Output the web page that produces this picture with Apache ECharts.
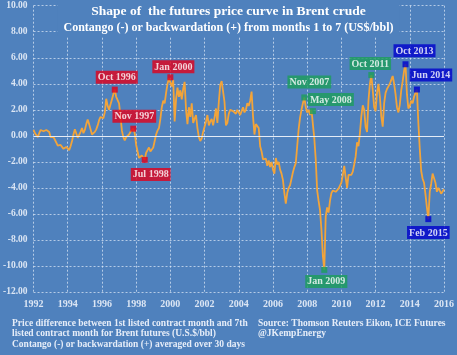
<!DOCTYPE html>
<html>
<head>
<meta charset="utf-8">
<script src="https://cdn.jsdelivr.net/npm/echarts@6/dist/echarts.min.js"></script>
<style>
html,body{margin:0;padding:0;background:#4f81bd;}
#c{width:457px;height:355px;}
</style>
</head>
<body>
<div id="c"></div>
<script>
// ---- data ----
const startYear = 1992;
const yearTicks = ['1992','1994','1996','1998','2000','2002','2004','2006','2008','2010','2012','2014','2016'];
const v1992 = [0.45, 0.2, 0.05, -0.1, 0.2, 0.45, 0.5, 0.35, 0.4, 0.45, 0.35, 0.3];
const v1993 = [-0.1, -0.25, -0.1, -0.3, -0.45, -0.75, -0.85, -0.7, -0.8, -1.0, -0.9, -0.85];
const v1994 = [-1.0, -1.1, -0.8, -0.4, 0.1, 0.5, 0.6, -0.15, -0.1, 0.3, 0.6, 0.2];
const v1995 = [0.45, 0.9, 1.25, 0.9, 0.5, 0.1, 0.05, 0.3, 0.5, 0.8, 1.2, 1.45];
const v1996 = [1.6, 1.35, 1.8, 2.85, 2.3, 2.0, 2.4, 2.8, 3.2, 3.55, 3.0, 3.15];
const v1997 = [2.5, 1.5, 0.4, -0.1, -0.35, -0.1, -0.2, 0.1, 0.3, 0.3, 0.55, 0.2];
const v1998 = [-0.7, -1.2, -1.7, -1.75, -1.5, -1.6, -1.85, -1.3, -1.1, -0.9, -1.2, -1.3];
const v1999 = [-0.9, -0.4, 0.1, 0.4, 0.6, 1.3, 2.2, 2.7, 2.5, 3.3, 4.0, 4.4];
const v2000 = [4.5, 3.8, 4.3, 1.1, 2.8, 3.7, 3.0, 3.5, 2.8, 3.6, 4.15, 2.0];
const v2001 = [0.9, 2.2, 1.45, 2.5, 1.0, 1.3, 1.6, 0.6, -0.1, -0.4, -0.2, 0.3];
const v2002 = [0.7, 1.1, 1.6, 0.8, 1.1, 1.3, 0.8, 1.4, 2.1, 1.0, 2.6, 3.9];
const v2003 = [4.2, 4.3, 2.6, 0.8, 1.0, 1.7, 2.0, 2.1, 1.9, 1.85, 1.7, 2.0];
const v2004 = [2.0, 1.6, 1.9, 2.2, 1.8, 2.0, 2.5, 2.3, 2.7, 3.4, 1.5, 0.1];
const v2005 = [0.9, 1.0, 0.6, -0.8, -1.2, -1.8, -1.7, -1.75, -2.3, -1.9, -2.4, -2.0];
const v2006 = [-2.6, -2.9, -1.7, -2.2, -2.0, -2.6, -2.9, -3.4, -4.4, -5.2, -4.4, -4.0];
const v2007 = [-3.8, -3.3, -2.8, -2.4, -2.1, -0.8, 0.5, 1.4, 2.0, 2.5, 2.95, 2.2];
const v2008 = [1.8, 2.0, 1.6, 2.0, 1.9, -0.2, -1.8, -4.2, -5.0, -5.7, -7.2, -9.2];
const v2009 = [-10.3, -6.2, -5.5, -5.9, -5.0, -4.4, -4.2, -4.1, -4.3, -4.3, -4.05, -4.1];
const v2010 = [-3.6, -3.0, -2.3, -3.2, -4.0, -3.0, -3.1, -3.0, -2.75, -2.2, -1.6, -0.5];
const v2011 = [-0.8, 0.2, 1.5, 2.35, 2.0, 0.7, 0.3, 2.7, 4.0, 4.67, 3.5, 2.2];
const v2012 = [1.9, 3.3, 4.0, 3.0, 1.5, 0.7, 2.5, 3.3, 3.6, 3.8, 4.0, 4.3];
const v2013 = [4.6, 4.0, 3.2, 2.2, 1.8, 2.4, 3.5, 4.2, 5.0, 5.5, 3.2, 2.1];
const v2014 = [2.3, 2.7, 2.5, 3.0, 3.3, 3.56, 1.0, -1.0, -2.7, -3.3, -3.6, -4.5];
const v2015 = [-5.5, -6.4, -4.3, -3.7, -2.9, -3.0, -3.6, -4.3, -4.0, -4.2, -4.45, -4.3];
const v2016 = [-4.1];

const annMonths = ['1996-10','1997-11','1998-07','2000-01','2007-11','2008-05','2009-01','2011-10','2013-10','2014-06','2015-02'];
const annLabels = ['Oct 1996','Nov 1997','Jul 1998','Jan 2000','Nov 2007','May 2008','Jan 2009','Oct 2011','Oct 2013','Jun 2014','Feb 2015'];

// ---- build ----
const values = [].concat(v1992,v1993,v1994,v1995,v1996,v1997,v1998,v1999,v2000,v2001,v2002,v2003,v2004,v2005,v2006,v2007,v2008,v2009,v2010,v2011,v2012,v2013,v2014,v2015,v2016);
const months = values.map((_, i) => {
  const y = startYear + Math.floor(i / 12);
  const m = (i % 12) + 1;
  return y + '-' + (m < 10 ? '0' + m : m);
});

// styles for annotations (by order)
const RED = '#e2001a', GREEN = '#1b9e5a', BLUE = '#0000cc';
const annStyle = [
  {c: RED,   pos: 'top',    d: 3, off: [2, 0]},
  {c: RED,   pos: 'top',    d: 3, off: [1, 0]},
  {c: RED,   pos: 'bottom', d: 5, off: [6, 0]},
  {c: RED,   pos: 'top',    d: 1, off: [3, 0]},
  {c: GREEN, pos: 'top',    d: 6, off: [5, 0]},
  {c: GREEN, pos: 'top',    d: 2, off: [18, 0]},
  {c: GREEN, pos: 'bottom', d: 2, off: [2, 0]},
  {c: GREEN, pos: 'top',    d: 2, off: [-1, 0]},
  {c: BLUE,  pos: 'top',    d: 4, off: [9, 0]},
  {c: BLUE,  pos: 'top',    d: 5, off: [14, 0]},
  {c: BLUE,  pos: 'bottom', d: 4, off: [0, 0]}
];

const FONT = '"Liberation Serif", "DejaVu Serif", serif';
const annData = annMonths.map((m, k) => {
  const idx = months.indexOf(m);
  const s = annStyle[k];
  return {
    value: [idx, values[idx]],
    itemStyle: {color: s.c},
    label: {
      show: true, formatter: annLabels[k], position: s.pos, distance: s.d, offset: s.off,
      backgroundColor: s.c, color: '#ffffff', fontFamily: FONT, fontWeight: 'bold',
      fontSize: 10, padding: [2, 2, 1, 2], lineHeight: 10
    }
  };
});

const chart = echarts.init(document.getElementById('c'), null, {renderer: 'canvas'});
const gridLine = {show: true, lineStyle: {color: 'rgba(225,235,248,0.7)', width: 1, type: [2, 2]}};
chart.setOption({
  backgroundColor: '#4f81bd',
  animation: false,
  title: {
    text: 'Shape of  the futures price curve in Brent crude',
    subtext: 'Contango (-) or backwardation (+) from months 1 to 7 (US$/bbl)',
    left: 'center', top: 1, itemGap: 2,
    backgroundColor: '#4f81bd', padding: [3, 6, 2, 6],
    textStyle: {color: '#ffffff', fontFamily: FONT, fontWeight: 'bold', fontSize: 13.5, lineHeight: 15},
    subtextStyle: {color: '#ffffff', fontFamily: FONT, fontWeight: 'bold', fontSize: 12, lineHeight: 13}
  },
  grid: {left: 30, right: 12, top: 5.7, bottom: 63, containLabel: false},
  xAxis: {
    type: 'category', data: months, boundaryGap: false,
    axisLine: {show: false, onZero: false},
    axisTick: {show: false},
    splitLine: Object.assign({interval: 23}, gridLine),
    axisLabel: {
      interval: 23, margin: 7, color: '#dce6f4', fontFamily: FONT, fontWeight: 'bold', fontSize: 10,
      formatter: (v) => { const y = v.slice(0, 4); return yearTicks.indexOf(y) >= 0 ? y : ''; }
    }
  },
  yAxis: {
    type: 'value', min: -12, max: 10, interval: 2,
    axisLine: {show: false}, axisTick: {show: false},
    splitLine: gridLine,
    axisLabel: {
      margin: 6, color: '#dce6f4', fontFamily: FONT, fontWeight: 'bold', fontSize: 9.5,
      formatter: (v) => v.toFixed(2)
    }
  },
  series: [
    {
      type: 'line', data: values, showSymbol: false, symbol: 'none',
      lineStyle: {color: '#f2a43a', width: 1.8},
      z: 3,
      markLine: {
        silent: true, symbol: 'none', label: {show: false},
        lineStyle: {color: '#e4ecf7', width: 1.2, type: 'solid'},
        data: [{yAxis: 0}]
      }
    },
    {
      type: 'scatter', data: annData, symbol: 'rect', symbolSize: 6, z: 5
    }
  ],
  graphic: [
    {
      type: 'text', left: 12, top: 318,
      style: {
        text: 'Price difference between 1st listed contract month and 7th\nlisted contract month for Brent futures (U.S.$/bbl)\nContango (-) or backwardation (+) averaged over 30 days',
        fill: '#e6edf8', font: 'bold 9.5px ' + FONT, lineHeight: 10.5
      }
    },
    {
      type: 'text', left: 258, top: 318,
      style: {
        text: 'Source: Thomson Reuters Eikon, ICE Futures\n@JKempEnergy',
        fill: '#e6edf8', font: 'bold 9.5px ' + FONT, lineHeight: 10.5
      }
    }
  ]
});
</script>
</body>
</html>
